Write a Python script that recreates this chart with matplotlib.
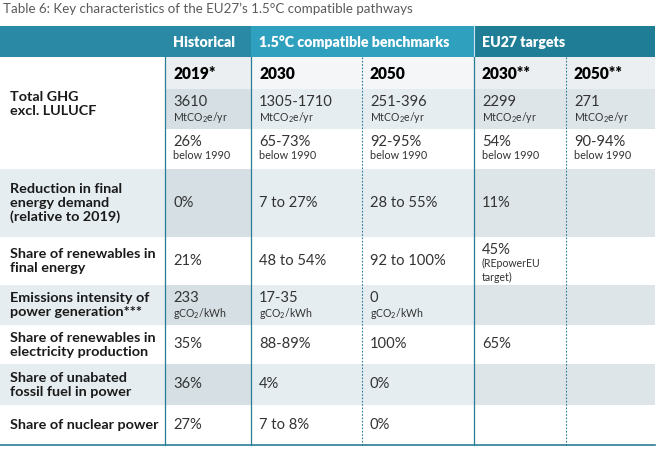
import matplotlib
matplotlib.use('agg')
import matplotlib.pyplot as plt
from matplotlib.patches import Rectangle

plt.rcParams['font.family'] = ['Lato', 'DejaVu Sans']
plt.rcParams['mathtext.fontset'] = 'custom'
plt.rcParams['mathtext.rm'] = 'Lato'
plt.rcParams['mathtext.it'] = 'Lato:italic'
plt.rcParams['mathtext.bf'] = 'Lato:bold'

title = "Table 6: Key characteristics of the EU27\u2019s 1.5\u00b0C compatible pathways"

groups = ["Historical", "1.5\u00b0C compatible benchmarks", "EU27 targets"]
group_span = [(1, 2), (2, 4), (4, 6)]
years = ["2019*", "2030", "2050", "2030**", "2050**"]

row_labels = [
    "Total GHG\nexcl. LULUCF",
    "",
    "Reduction in final\nenergy demand\n(relative to 2019)",
    "Share of renewables in\nfinal energy",
    "Emissions intensity of\npower generation***",
    "Share of renewables in\nelectricity production",
    "Share of unabated\nfossil fuel in power",
    "Share of nuclear power",
]

# (main value, small note) per cell
ghg_abs = ["3610", "1305-1710", "251-396", "2299", "271"]
ghg_rel = ["26%", "65-73%", "92-95%", "54%", "90-94%"]
demand = ["0%", "7 to 27%", "28 to 55%", "11%", ""]
ren_final = ["21%", "48 to 54%", "92 to 100%", "45%", ""]
ren_final_note = ["", "", "", "(REpowerEU\ntarget)", ""]
intensity = ["233", "17-35", "0", "", ""]
ren_elec = ["35%", "88-89%", "100%", "65%", ""]
fossil = ["36%", "4%", "0%", "", ""]
nuclear = ["27%", "7 to 8%", "0%", "", ""]

unit_ghg = "MtCO$_2$e/yr"
unit_int = "gCO$_2$/kWh"

# layout in pixels
col_x = [0, 165, 251, 362, 474, 566, 655]
head_y = (26, 57)
year_y = (57, 89)
row_y = [89, 129, 169, 237, 285, 325, 364, 405, 445]
grey_rows = [0, 2, 4, 6]

teal = "#2a8aa5"
teal_light = "#30a0bf"
teal_dark = "#1f7e96"
line_col = "#2a7d96"
grey = "#e5edf0"
grey_hist = "#d5dfe4"
grey_eu = "#dde5e9"


def main():
    fig = plt.figure(figsize=(6.57, 4.51), dpi=100)
    ax = fig.add_axes([0, 0, 1, 1])
    ax.set_xlim(0, 657)
    ax.set_ylim(451, 0)
    ax.axis("off")

    ax.text(3, 9, title, fontsize=9.6, color="#5a5a5a", va="center", ha="left")

    # header band
    ax.add_patch(Rectangle((0, head_y[0]), col_x[2], head_y[1] - head_y[0], color=teal, lw=0))
    ax.add_patch(Rectangle((col_x[2], head_y[0]), col_x[4] - col_x[2], head_y[1] - head_y[0],
                           color=teal_light, lw=0))
    ax.add_patch(Rectangle((col_x[4], head_y[0]), col_x[6] - col_x[4], head_y[1] - head_y[0],
                           color=teal_dark, lw=0))
    for g, (c0, c1) in zip(groups, group_span):
        ax.text(col_x[c0] + 8, (head_y[0] + head_y[1]) / 2 + 1, g, fontsize=10.2,
                fontweight="heavy", color="white", va="center", ha="left")
    ax.plot([col_x[4], col_x[4]], [head_y[0], head_y[1]], color="#cfe6ee", lw=0.8)

    # year row
    for j, y in enumerate(years):
        x0, x1 = col_x[j + 1], col_x[j + 2]
        fc = "#eceff1" if j in (0, 3, 4) else "#f4f6f7"
        ax.add_patch(Rectangle((x0, year_y[0]), x1 - x0, year_y[1] - year_y[0], color=fc, lw=0))
        ax.text(x0 + 8, (year_y[0] + year_y[1]) / 2 + 1, y, fontsize=11.2, fontweight="heavy",
                color="black", va="center", ha="left")

    # row backgrounds
    for i in range(len(row_y) - 1):
        y0, y1 = row_y[i], row_y[i + 1]
        if i not in grey_rows:
            continue
        start = 1 if i == 0 else 0
        for c in range(start, 6):
            fc = grey
            if c == 1:
                fc = grey_hist
            elif c >= 4:
                fc = grey_eu
            ax.add_patch(Rectangle((col_x[c], y0), col_x[c + 1] - col_x[c], y1 - y0,
                                   color=fc, lw=0))

    # row labels
    for i, lab in enumerate(row_labels):
        if not lab:
            continue
        if i == 0:
            yc = 104
        else:
            yc = (row_y[i] + row_y[i + 1]) / 2
        ax.text(10, yc, lab, fontsize=10.4, fontweight="bold", color="#1a1a1a",
                va="center", ha="left", linespacing=1.2)

    def cell(c, i, value, note="", note_size=7.6):
        x = col_x[c + 1] + 8
        y0, y1 = row_y[i], row_y[i + 1]
        if note:
            ax.text(x, y0 + 6, value, fontsize=10.6, color="#333333", va="top", ha="left")
            ax.text(x, y0 + 21, note, fontsize=note_size, color="#333333", va="top", ha="left",
                    linespacing=1.3)
        elif value:
            ax.text(x, (y0 + y1) / 2, value, fontsize=10.6, color="#333333",
                    va="center", ha="left")

    for c in range(5):
        cell(c, 0, ghg_abs[c], unit_ghg)
        cell(c, 1, ghg_rel[c], "below 1990", 7.8)
        cell(c, 2, demand[c])
        cell(c, 3, ren_final[c], ren_final_note[c])
        cell(c, 4, intensity[c], unit_int if intensity[c] else "")
        cell(c, 5, ren_elec[c])
        cell(c, 6, fossil[c])
        cell(c, 7, nuclear[c])

    # vertical lines
    top, bottom = year_y[0], row_y[-1]
    for c in (1, 2):
        ax.plot([col_x[c], col_x[c]], [top, bottom], color=line_col, lw=0.9)
    ax.plot([col_x[4], col_x[4]], [top, bottom], color=line_col, lw=0.9)
    for c in (3, 5):
        ax.plot([col_x[c], col_x[c]], [top, bottom], color=line_col, lw=0.8,
                ls=(0, (1.5, 1.5)))
    ax.plot([0, col_x[-1]], [bottom, bottom], color=line_col, lw=1.2)

    fig.savefig("out.png", dpi=100)


if __name__ == "__main__":
    main()
